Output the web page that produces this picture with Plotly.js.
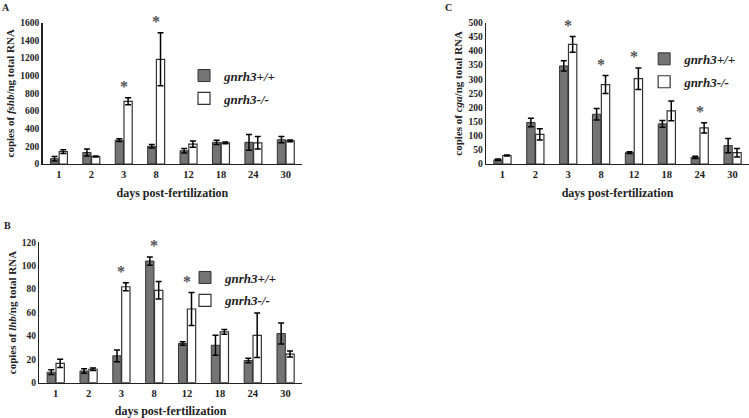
<!DOCTYPE html>
<html>
<head>
<meta charset="utf-8">
<script src="https://cdn.plot.ly/plotly-3.0.1.min.js"></script>
<style>html,body{margin:0;padding:0;background:#fff;}#chart{width:749px;height:418px;}</style>
</head>
<body>
<div id="chart"></div>
<script>
const days = ['1','2','3','8','12','18','24','30'];
const seriesNames = ['<i>gnrh3+/+</i>', '<i>gnrh3-/-</i>'];

// Panel A: fshb
const fshbWT    = [60, 130, 270, 200, 150, 245, 245, 275];
const fshbWTerr = [25, 40, 15, 20, 25, 25, 90, 35];
const fshbKO    = [140, 85, 710, 1185, 225, 240, 240, 262];
const fshbKOerr = [20, 5, 40, 300, 35, 10, 70, 10];
const fshbSig   = [0, 0, 1, 1, 0, 0, 0, 0];

// Panel B: lhb
const lhbWT    = [9, 10, 23, 104, 33.5, 32, 19, 42];
const lhbWTerr = [2, 2, 5, 3.5, 1.5, 8.5, 2, 9];
const lhbKO    = [16.5, 11.5, 82, 79, 63, 43.5, 40.5, 24.5];
const lhbKOerr = [3.5, 1, 3.5, 7.5, 14, 2, 19, 2.5];
const lhbSig   = [0, 0, 1, 1, 1, 0, 0, 0];

// Panel C: cga
const cgaWT    = [15, 147, 347, 176, 40, 142, 23, 65];
const cgaWTerr = [3, 15, 18, 20, 3, 12, 4, 25];
const cgaKO    = [30, 105, 423, 281, 302, 188, 128, 40];
const cgaKOerr = [2, 20, 28, 32, 38, 35, 18, 15];
const cgaSig   = [0, 0, 1, 1, 1, 0, 1, 0];

const FONT = 'Liberation Serif, Times New Roman, serif';
const GRAY = '#747474';
const EDGE = '#333333';

function bars(wt, wtErr, ko, koErr, xa, ya, leg) {
  const common = {type: 'bar', x: days, xaxis: xa, yaxis: ya, legend: leg};
  return [
    Object.assign({}, common, {
      y: wt, name: seriesNames[0], legendgroup: leg + 'a',
      marker: {color: GRAY, line: {color: EDGE, width: 1}},
      error_y: {type: 'data', array: wtErr, visible: true, color: '#000', thickness: 1.5, width: 3}
    }),
    Object.assign({}, common, {
      y: ko, name: seriesNames[1], legendgroup: leg + 'b',
      marker: {color: '#ffffff', line: {color: EDGE, width: 1.2}},
      error_y: {type: 'data', array: koErr, visible: true, color: '#000', thickness: 1.5, width: 3}
    })
  ];
}

function stars(wt, wtErr, ko, koErr, sig, xa, ya) {
  const out = [];
  sig.forEach((s, i) => {
    if (!s) return;
    out.push({
      xref: xa, yref: ya, x: i,
      y: Math.max(wt[i] + wtErr[i], ko[i] + koErr[i]),
      text: '*', showarrow: false, yanchor: 'bottom', yshift: 1,
      font: {family: FONT, size: 16, color: '#555555'}
    });
  });
  return out;
}

const data = [].concat(
  bars(fshbWT, fshbWTerr, fshbKO, fshbKOerr, 'x', 'y', 'legend'),
  bars(cgaWT, cgaWTerr, cgaKO, cgaKOerr, 'x2', 'y2', 'legend2'),
  bars(lhbWT, lhbWTerr, lhbKO, lhbKOerr, 'x3', 'y3', 'legend3')
);

function xax(domain, anchor) {
  return {
    domain: domain, anchor: anchor, type: 'category', range: [-0.5, days.length - 0.5],
    showline: true, linecolor: '#222', linewidth: 1.5, ticks: '', showgrid: false,
    tickfont: {family: FONT, size: 10.5, color: '#222', weight: 'bold'},
    title: {text: 'days post-fertilization', font: {family: FONT, size: 12, color: '#222', weight: 'bold'}, standoff: 9},
    automargin: false, fixedrange: true
  };
}
function yax(domain, anchor, range, dtick, gene) {
  return {
    domain: domain, anchor: anchor, range: range, dtick: dtick,
    showline: true, linecolor: '#222', linewidth: 1.5, ticks: '', showgrid: false, zeroline: false,
    tickfont: {family: FONT, size: 9.5, color: '#222', weight: 'bold'},
    title: {text: 'copies of <i>' + gene + '</i>/ng total RNA', font: {family: FONT, size: 11, color: '#222', weight: 'bold'}, standoff: 3},
    automargin: false, fixedrange: true
  };
}

const legFont = {family: FONT, size: 13, color: '#222', weight: 'bold'};
function leg(x, y) {
  return {x: x, y: y, xanchor: 'left', yanchor: 'top', font: legFont, bgcolor: 'rgba(0,0,0,0)',
          traceorder: 'grouped', tracegroupgap: 3, itemwidth: 30};
}

const layout = {
  width: 749, height: 418,
  margin: {l: 0, r: 0, t: 0, b: 0},
  paper_bgcolor: '#fff', plot_bgcolor: '#fff',
  font: {family: FONT, color: '#222', weight: 'bold'},
  showlegend: true,
  barmode: 'group', bargap: 0.46, bargroupgap: 0.06,
  xaxis: xax([0.057, 0.4032], 'y'),
  yaxis: yax([0.6077, 0.9457], 'x', [0, 1600], 200, 'fshb'),
  xaxis2: xax([0.6489, 1.0], 'y2'),
  yaxis2: yax([0.6077, 0.9457], 'x2', [0, 500], 50, 'cga'),
  xaxis3: xax([0.0525, 0.4032], 'y3'),
  yaxis3: yax([0.0844, 0.4203], 'x3', [0, 120], 20, 'lhb'),
  legend: leg(0.2457, 0.855),
  legend2: leg(0.86, 0.895),
  legend3: leg(0.247, 0.372),
  annotations: [].concat(
    stars(fshbWT, fshbWTerr, fshbKO, fshbKOerr, fshbSig, 'x', 'y'),
    stars(cgaWT, cgaWTerr, cgaKO, cgaKOerr, cgaSig, 'x2', 'y2'),
    stars(lhbWT, lhbWTerr, lhbKO, lhbKOerr, lhbSig, 'x3', 'y3'),
    [
      {xref: 'paper', yref: 'paper', x: 0.0, y: 1.0, xanchor: 'left', yanchor: 'top', text: 'A', showarrow: false, font: {family: FONT, size: 10, color: '#222', weight: 'bold'}},
      {xref: 'paper', yref: 'paper', x: 0.003, y: 0.478, xanchor: 'left', yanchor: 'top', text: 'B', showarrow: false, font: {family: FONT, size: 10, color: '#222', weight: 'bold'}},
      {xref: 'paper', yref: 'paper', x: 0.592, y: 1.0, xanchor: 'left', yanchor: 'top', text: 'C', showarrow: false, font: {family: FONT, size: 10, color: '#222', weight: 'bold'}}
    ]
  )
};

Plotly.newPlot('chart', data, layout, {displayModeBar: false, staticPlot: true});
</script>
</body>
</html>
